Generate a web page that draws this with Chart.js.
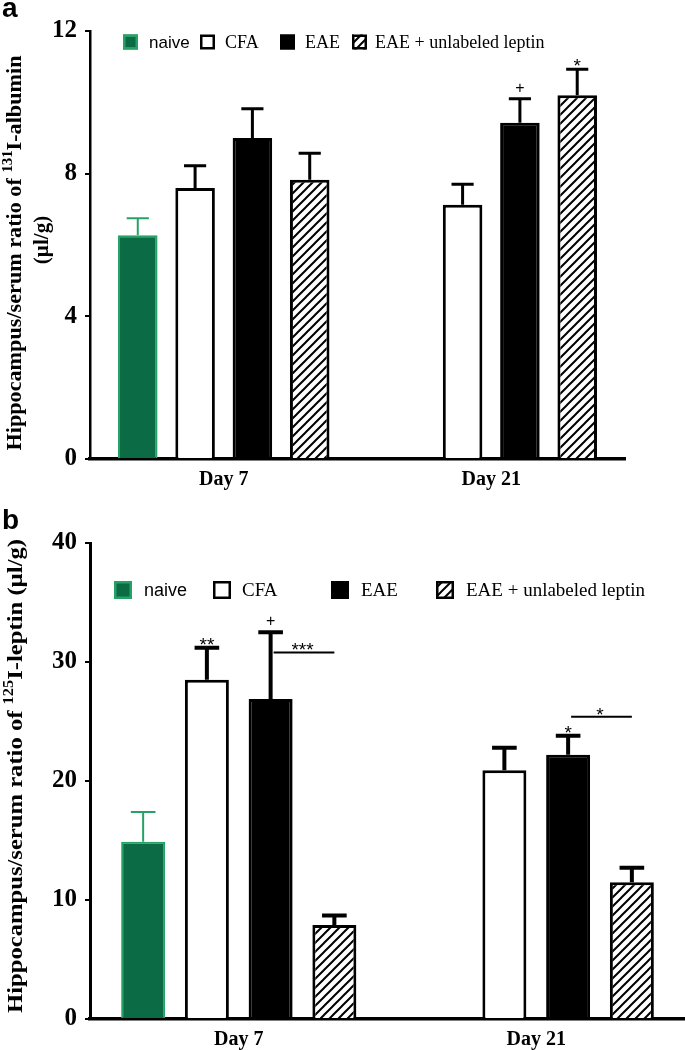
<!DOCTYPE html>
<html>

<head>
  <script src="https://cdn.jsdelivr.net/npm/chart.js"></script>
  <style>
    body { margin: 0; background: #fff; }
    #page { position: relative; width: 685px; height: 1050px; overflow: hidden; }
    .panel { position: absolute; left: 0; width: 685px; }
    .letter { position: absolute; left: 2px; font: bold 28px "Liberation Sans", Arial, sans-serif; color: #000; line-height: 1; }
  </style>
</head>

<body>
  <div id="page">
    <div class="panel" style="top:0;height:520px"><canvas id="chartA" width="685" height="520"></canvas></div>
    <div class="panel" style="top:520px;height:530px"><canvas id="chartB" width="685" height="530"></canvas></div>
    <div class="letter" style="top:-6px">a</div>
    <div class="letter" style="top:506px">b</div>
  </div>

  <script>
    // categories and groups
    const days = ["Day 7", "Day 21"];
    const groups = ["naive", "CFA", "EAE", "EAE + unlabeled leptin"];

    // panel a: 131I-albumin (mean, sem)
    const albNaive = [6.27, null];
    const albNaiveSem = [0.48, null];
    const albCfa = [7.6, 7.13];
    const albCfaSem = [0.62, 0.57];
    const albEae = [9.0, 9.43];
    const albEaeSem = [0.82, 0.67];
    const albLeptin = [7.83, 10.2];
    const albLeptinSem = [0.74, 0.73];
    const albTicks = [0, 4, 8, 12];

    // panel b: 125I-leptin (mean, sem)
    const lepNaive = [14.9, null];
    const lepNaiveSem = [2.5, null];
    const lepCfa = [28.5, 20.9];
    const lepCfaSem = [2.7, 1.9];
    const lepEae = [26.9, 22.2];
    const lepEaeSem = [5.6, 1.6];
    const lepLeptin = [7.9, 11.5];
    const lepLeptinSem = [0.8, 1.2];
    const lepTicks = [0, 10, 20, 30, 40];

    // significance marks
    const albMarks = [{ series: 2, day: 1, text: "+" }, { series: 3, day: 1, text: "*" }];
    const lepMarks = [{ series: 1, day: 0, text: "**" }, { series: 2, day: 0, text: "+" }, { series: 2, day: 1, text: "*" }];
    const lepBrackets = [{ from: 2, to: 3, day: 0, level: 30.8, text: "***" }, { from: 2, to: 3, day: 1, level: 25.4, text: "*" }];

    const GREEN = "#0b6b45";
    const GREEN_EDGE = "#27a266";
    const SERIF = "'Liberation Serif', 'Times New Roman', serif";
    const SANS = "'Liberation Sans', Arial, sans-serif";

    function makeHatch() {
      const c = document.createElement("canvas");
      c.width = 9; c.height = 9;
      const g = c.getContext("2d");
      g.fillStyle = "#fff";
      g.fillRect(0, 0, 9, 9);
      g.strokeStyle = "#000";
      g.lineWidth = 2;
      g.beginPath();
      g.moveTo(-1, 10); g.lineTo(10, -1);
      g.moveTo(-1, 1); g.lineTo(1, -1);
      g.moveTo(8, 10); g.lineTo(10, 8);
      g.stroke();
      return g.createPattern(c, "repeat");
    }
    const hatch = makeHatch();

    function buildDatasets(means, sems) {
      const fills = [GREEN, "#fff", "#000", hatch];
      const edges = [GREEN_EDGE, "#000", "#000", "#000"];
      const widths = [2, 3, 3, 3];
      return means.map((m, i) => ({
        label: groups[i],
        data: m,
        sem: sems[i],
        backgroundColor: fills[i],
        borderColor: edges[i],
        borderWidth: widths[i],
        borderSkipped: "start",
        categoryPercentage: 0.857,
        barPercentage: 0.69
      }));
    }

    // upper error bars + significance marks
    function errorBars(lw, marks, brackets) {
      return {
        id: "errorBars",
        afterDatasetsDraw(chart) {
          const ctx = chart.ctx;
          const y = chart.scales.y;
          ctx.save();
          chart.data.datasets.forEach((ds, di) => {
            const meta = chart.getDatasetMeta(di);
            meta.data.forEach((bar, j) => {
              if (ds.data[j] == null) return;
              const top = y.getPixelForValue(ds.data[j] + ds.sem[j]);
              const half = bar.width * 0.28;
              ctx.strokeStyle = di === 0 ? GREEN_EDGE : "#000";
              ctx.lineWidth = di === 0 ? 2 : lw;
              ctx.beginPath();
              ctx.moveTo(bar.x, bar.y);
              ctx.lineTo(bar.x, top);
              ctx.moveTo(bar.x - half, top);
              ctx.lineTo(bar.x + half, top);
              ctx.stroke();
            });
          });
          ctx.fillStyle = "#000";
          ctx.textAlign = "center";
          ctx.textBaseline = "alphabetic";
          marks.forEach(mk => {
            const ds = chart.data.datasets[mk.series];
            const bar = chart.getDatasetMeta(mk.series).data[mk.day];
            const top = y.getPixelForValue(ds.data[mk.day] + ds.sem[mk.day]);
            if (mk.text === "+") {
              ctx.font = "16px " + SANS;
              ctx.fillText(mk.text, bar.x, top - 6);
            } else {
              ctx.font = "19px " + SANS;
              ctx.fillText(mk.text, bar.x, top + 3);
            }
          });
          brackets.forEach(br => {
            const b1 = chart.getDatasetMeta(br.from).data[br.day];
            const b2 = chart.getDatasetMeta(br.to).data[br.day];
            const ly = y.getPixelForValue(br.level);
            ctx.lineWidth = 2;
            ctx.beginPath();
            ctx.moveTo(b1.x + 3, ly);
            ctx.lineTo(b2.x, ly);
            ctx.stroke();
            ctx.font = "19px " + SANS;
            ctx.fillText(br.text, (b1.x + b2.x) / 2, ly + 4);
          });
          ctx.restore();
        }
      };
    }

    // legend drawn at fixed spots like the figure
    function figLegend(cfg) {
      return {
        id: "figLegend",
        afterDraw(chart) {
          const ctx = chart.ctx;
          ctx.save();
          ctx.textBaseline = "middle";
          ctx.textAlign = "left";
          chart.data.datasets.forEach((ds, i) => {
            const x = cfg.boxX[i], s = cfg.box, yc = cfg.y;
            ctx.fillStyle = ds.backgroundColor;
            ctx.fillRect(x, yc - s / 2, s, s);
            ctx.strokeStyle = ds.borderColor;
            ctx.lineWidth = 2.5;
            ctx.strokeRect(x + 1.25, yc - s / 2 + 1.25, s - 2.5, s - 2.5);
            ctx.fillStyle = "#000";
            ctx.font = i === 0 ? cfg.size + "px " + SANS : (cfg.size + 1) + "px " + SERIF;
            ctx.fillText(ds.label, cfg.textX[i], yc + 1);
          });
          ctx.restore();
        }
      };
    }

    // rotated y title with superscript
    function yTitle(lines) {
      return {
        id: "yTitle",
        afterDraw(chart) {
          const ctx = chart.ctx;
          ctx.save();
          ctx.fillStyle = "#000";
          ctx.textBaseline = "middle";
          lines.forEach(line => {
            const widths = [];
            let total = 0;
            line.parts.forEach(p => {
              ctx.font = "bold " + (p.sup ? 14 : 21) + "px " + SERIF;
              const w = ctx.measureText(p.text).width;
              widths.push(w);
              total += w;
            });
            const k = line.length ? line.length / total : 1;
            ctx.save();
            ctx.translate(line.x, line.y);
            ctx.rotate(-Math.PI / 2);
            ctx.scale(k, 1);
            let cx = -total / 2;
            line.parts.forEach((p, i) => {
              ctx.font = "bold " + (p.sup ? 14 : 21) + "px " + SERIF;
              ctx.fillText(p.text, cx, p.sup ? -8 : 0);
              cx += widths[i];
            });
            ctx.restore();
          });
          ctx.restore();
        }
      };
    }

    function axisOptions(ticks, axisH, axisW, yBorder) {
      return {
        x: {
          grid: { display: true, drawOnChartArea: false, drawTicks: false },
          border: { color: "#000", width: 3.5 },
          ticks: { color: "#000", font: { family: SERIF, weight: "bold", size: 20 }, padding: 9 },
          afterFit(s) { s.height = axisH; }
        },
        y: {
          min: ticks[0],
          max: ticks[ticks.length - 1],
          afterBuildTicks(s) { s.ticks = ticks.map(v => ({ value: v })); },
          ticks: { color: "#000", font: { family: SERIF, weight: "bold", size: 25 }, padding: 8 },
          grid: { display: true, drawOnChartArea: false, drawTicks: true, tickLength: 5, color: "#000", lineWidth: 2 },
          border: { color: "#000", width: yBorder },
          afterFit(s) { s.width = axisW; }
        }
      };
    }

    new Chart(document.getElementById("chartA"), {
      type: "bar",
      data: {
        labels: days,
        datasets: buildDatasets([albNaive, albCfa, albEae, albLeptin], [albNaiveSem, albCfaSem, albEaeSem, albLeptinSem])
      },
      options: {
        responsive: false,
        animation: false,
        layout: { padding: { top: 31, right: 60, left: 0, bottom: 0 } },
        scales: axisOptions(albTicks, 61, 90, 2.5),
        plugins: { legend: { display: false }, tooltip: { enabled: false } }
      },
      plugins: [
        errorBars(3, albMarks, []),
        figLegend({ y: 42, box: 15, size: 17, boxX: [123, 200, 280, 352], textX: [149, 225, 305, 375] }),
        yTitle([
          { x: 16, y: 253, length: 395, parts: [{ text: "Hippocampus/serum ratio of " }, { text: "131", sup: true }, { text: "I-albumin" }] },
          { x: 43, y: 240, parts: [{ text: "(µl/g)" }] }
        ])
      ]
    });

    new Chart(document.getElementById("chartB"), {
      type: "bar",
      data: {
        labels: days,
        datasets: buildDatasets([lepNaive, lepCfa, lepEae, lepLeptin], [lepNaiveSem, lepCfaSem, lepEaeSem, lepLeptinSem])
      },
      options: {
        responsive: false,
        animation: false,
        layout: { padding: { top: 21, right: 0, left: 0, bottom: 0 } },
        scales: axisOptions(lepTicks, 31, 90, 3),
        plugins: { legend: { display: false }, tooltip: { enabled: false } }
      },
      plugins: [
        errorBars(4, lepMarks, lepBrackets),
        figLegend({ y: 70, box: 18, size: 18, boxX: [114, 213, 331, 436], textX: [144, 242, 361, 466] }),
        yTitle([
          { x: 17, y: 256, length: 474, parts: [{ text: "Hippocampus/serum ratio of " }, { text: "125", sup: true }, { text: "I-leptin (µl/g)" }] }
        ])
      ]
    });
  </script>
</body>

</html>
